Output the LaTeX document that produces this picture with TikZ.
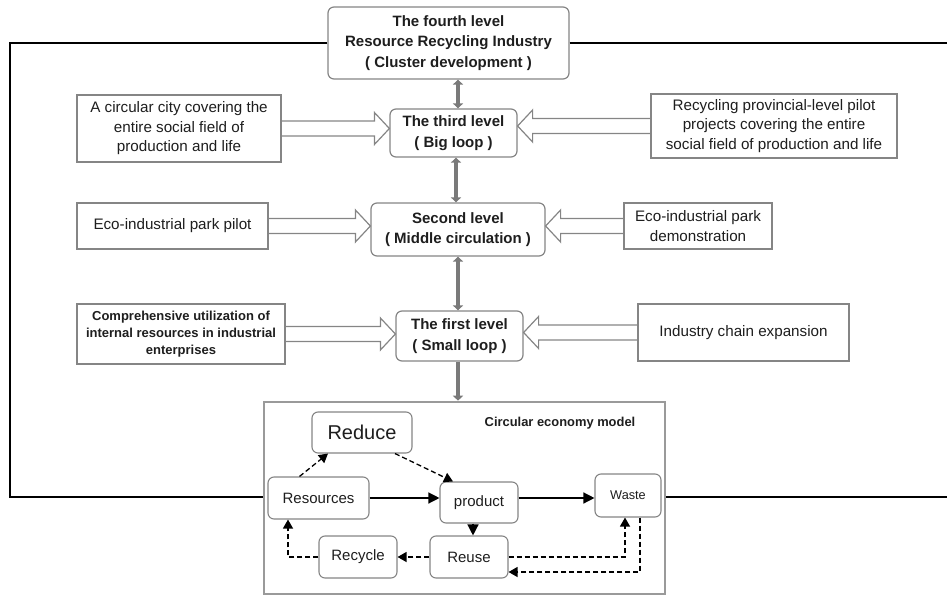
\documentclass[tikz,border=0pt]{standalone}
\usepackage{fontspec}
\setmainfont{Liberation Sans}
\usetikzlibrary{arrows.meta,calc}
\definecolor{boxgray}{HTML}{858585}
\definecolor{arrgray}{HTML}{7A7A7A}
\definecolor{framegray}{HTML}{9A9A9A}
\definecolor{txt}{HTML}{1E1E1E}
\tikzset{
  lvl/.style={draw=boxgray, line width=1.2pt, rounded corners=6pt, fill=white, inner sep=0pt,
    align=center, text=txt, font=\bfseries\fontsize{15}{20.5}\selectfont},
  side/.style={draw=boxgray, line width=1.2pt, fill=white, inner sep=0pt,
    align=center, text=txt, font=\fontsize{15.2}{19.5}\selectfont},
  cbox/.style={draw=boxgray, line width=1.1pt, rounded corners=6pt, fill=white, inner sep=0pt,
    text=txt, font=\fontsize{15}{18}\selectfont},
  hollow/.style={draw=boxgray, line width=1.2pt, line join=miter},
  vlink/.style={draw=arrgray, line width=4pt, arrows={Triangle[length=5pt,width=10pt]-Triangle[length=5pt,width=10pt]}},
  vdown/.style={draw=arrgray, line width=4pt, arrows={-Triangle[length=5pt,width=10pt]}},
  outer/.style={draw=black, line width=2.6pt},
  solidarr/.style={draw=black, line width=1.3pt, arrows={-Triangle[length=11pt,width=11pt]}},
  dasharr/.style={draw=black, line width=1.3pt, dash pattern=on 5pt off 3pt, arrows={-Triangle[length=9pt,width=10pt]}},
  modelframe/.style={draw=framegray, line width=2.6pt, inner sep=0pt}
}
\newcommand\hollowarrow[2]{%
  \draw[hollow] let \p1=(#1), \p2=(#2), \p3=($(#2)!15pt!(#1)$) in
  (\x1,\y1+7.5pt) -- (\x3,\y1+7.5pt) -- (\x3,\y1+16pt) -- (\x2,\y1)
  -- (\x3,\y1-16pt) -- (\x3,\y1-7.5pt) -- (\x1,\y1-7.5pt);}
\begin{document}
\begin{tikzpicture}[x=1pt,y=-1pt]
\useasboundingbox (0,0) rectangle (947,596);

% model frame
\node[modelframe, minimum width=401pt, minimum height=192pt] (frame) at (464.5,498) {};

% level boxes
\node[lvl, minimum width=241pt, minimum height=72pt] (fourth) at (448.5,43)
  {The fourth level\\Resource Recycling Industry\\( Cluster development )};
\node[lvl, minimum width=127pt, minimum height=48pt] (third) at (453.5,133)
  {The third level\\( Big loop )};
\node[lvl, minimum width=174pt, minimum height=53pt] (second) at (458,229.5)
  {Second level\\( Middle circulation )};
\node[lvl, minimum width=127pt, minimum height=50pt] (first) at (459.5,336)
  {The first level\\( Small loop )};

% side boxes
\node[side, minimum width=204pt, minimum height=67pt] (L1) at (179,128.5)
  {A circular city covering the\\entire social field of\\production and life};
\node[side, minimum width=246pt, minimum height=64pt] (R1) at (774,126)
  {Recycling provincial-level pilot\\projects covering the entire\\social field of production and life};
\node[side, minimum width=191pt, minimum height=46pt] (L2) at (172.5,226)
  {Eco-industrial park pilot};
\node[side, minimum width=148pt, minimum height=46pt] (R2) at (698,226)
  {Eco-industrial park\\demonstration};
\node[side, minimum width=208pt, minimum height=60pt, font=\bfseries\fontsize{13}{16.7}\selectfont] (L3) at (181,334)
  {Comprehensive utilization of\\internal resources in industrial\\enterprises};
\node[side, minimum width=211pt, minimum height=57pt] (R3) at (743.5,332.5)
  {Industry chain expansion};

% hollow arrows
\hollowarrow{L1.east}{third.west |- L1.east}
\hollowarrow{R1.west}{third.east |- R1.west}
\hollowarrow{L2.east}{second.west |- L2.east}
\hollowarrow{R2.west}{second.east |- R2.west}
\hollowarrow{L3.east}{first.west |- L3.east}
\hollowarrow{R3.west}{first.east |- R3.west}

% vertical links
\draw[vlink] (second |- fourth.south) -- (second |- third.north);
\draw[vlink] ([xshift=-2pt]second |- third.south) -- ([xshift=-2pt]second.north);
\draw[vlink] (second.south) -- (second |- first.north);
\draw[vdown] (second |- first.south) -- (second |- frame.north);

% outer loop
\coordinate (lc) at (10,497);
\coordinate (rtop) at (947,43);
\coordinate (rbot) at (947,497);
\draw[outer] (fourth.west) -| (lc) -- (frame.west |- lc);
\draw[outer] (fourth.east) -- (rtop);
\draw[outer] (frame.east |- rbot) -- (rbot);

% circular economy model
\node[text=txt, font=\bfseries\fontsize{12.9}{15}\selectfont] (ctitle) at (560,423) {Circular economy model};
\node[cbox, minimum width=100pt, minimum height=41pt, font=\fontsize{20}{22}\selectfont] (reduce) at (362,432.5) {Reduce};
\node[cbox, minimum width=101pt, minimum height=42pt] (resources) at (318.5,498) {Resources};
\node[cbox, minimum width=78pt, minimum height=41pt] (product) at (479,502.5) {product};
\node[cbox, minimum width=66pt, minimum height=43pt, font=\fontsize{12.7}{15}\selectfont] (waste) at (628,495.5) {Waste};
\node[cbox, minimum width=78pt, minimum height=42pt] (recycle) at (358,557) {Recycle};
\node[cbox, minimum width=78pt, minimum height=42pt] (reuse) at (469,557) {Reuse};

\draw[solidarr] (resources.east |- 0,498) -- (product.west |- 0,498);
\draw[solidarr] (product.east |- 0,498) -- (waste.west |- 0,498);
\draw[solidarr] ($(product.south)+(-6,0)$) -- ($(reuse.north)+(4,0)$);
\draw[dasharr] ($(resources.north)+(-19,0)$) -- ($(reduce.south)+(-34,0)$);
\draw[dasharr] ($(reduce.south)+(33,0)$) -- ($(product.north)+(-26,0)$);
\draw[dasharr] (reuse.west) -- (recycle.east);
\draw[dasharr] (recycle.west) -| ($(resources.south)+(-30.5,0)$);
\draw[dasharr] (reuse.east) -| ($(waste.south)+(-3,0)$);
\draw[dasharr] ($(waste.south)+(12,0)$) |- ($(reuse.east)+(0,15)$);
\end{tikzpicture}
\end{document}
